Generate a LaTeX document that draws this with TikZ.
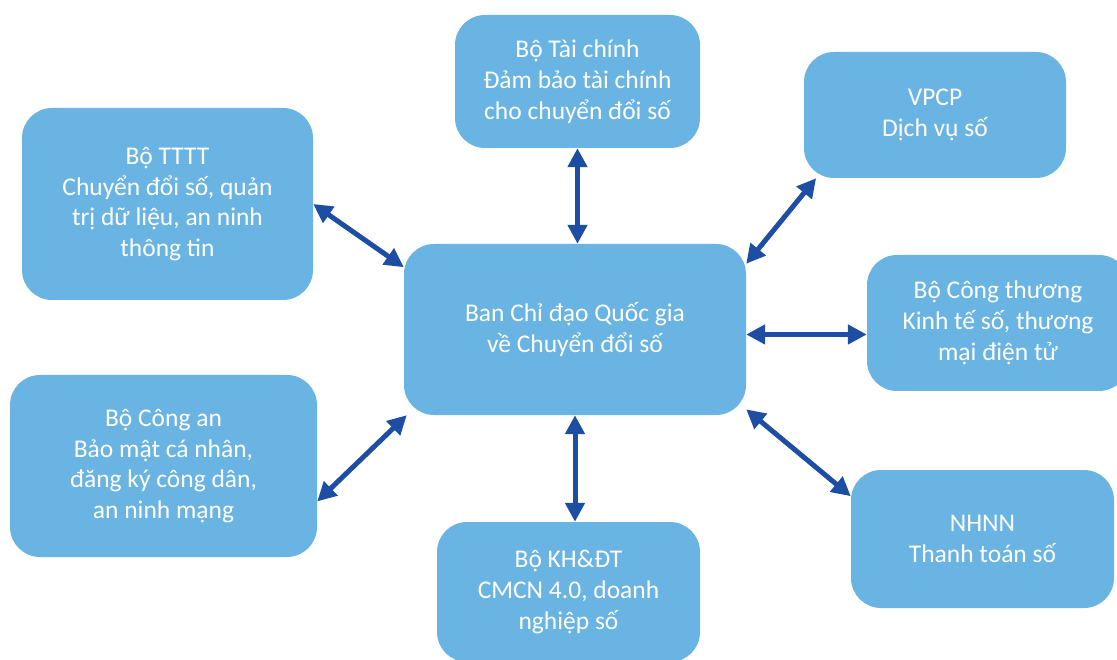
\documentclass[tikz,border=0pt]{standalone}
\usepackage{fontspec}
\setmainfont{Carlito}
\usetikzlibrary{arrows.meta}
\definecolor{boxblue}{RGB}{105,180,226}
\definecolor{arrowblue}{RGB}{29,78,163}
\tikzset{
	unit/.style={rounded corners=30pt, fill=boxblue, text=white, align=center, inner sep=0pt,
		font=\fontsize{25.5}{30.8}\selectfont},
	link/.style={{Triangle[length=19pt,width=19pt]}-{Triangle[length=19pt,width=19pt]}, line width=5pt, draw=arrowblue}
}
\begin{document}
\begin{tikzpicture}[x=1pt,y=-1pt]
			\useasboundingbox (0,0) rectangle (1117,660);
			\node[unit, minimum width=342pt, minimum height=171pt] (bcd) at (575,329.5) {Ban Chỉ đạo Quốc gia\\về Chuyển đổi số};
			\node[unit, minimum width=291pt, minimum height=192pt] (tttt) at (167.5,204) {Bộ TTTT\\Chuyển đổi số, quản\\trị dữ liệu, an ninh\\thông tin};
			\node[unit, minimum width=245pt, minimum height=133pt] (taichinh) at (577.5,81.5) {Bộ Tài chính\\Đảm bảo tài chính\\cho chuyển đổi số};
			\node[unit, minimum width=262pt, minimum height=126pt] (vpcp) at (935,115) {VPCP\\Dịch vụ số};
			\node[unit, minimum width=262pt, minimum height=136pt] (congthuong) at (998,323) {Bộ Công thương\\Kinh tế số, thương\\mại điện tử};
			\node[unit, minimum width=307pt, minimum height=182pt] (congan) at (163.5,466) {Bộ Công an\\Bảo mật cá nhân,\\đăng ký công dân,\\an ninh mạng};
			\node[unit, minimum width=263pt, minimum height=140pt] (khdt) at (568.5,592) {Bộ KH\&ĐT\\CMCN 4.0, doanh\\nghiệp số};
			\node[unit, minimum width=263pt, minimum height=138pt] (nhnn) at (982.5,539) {NHNN\\Thanh toán số};
			\draw[link] (tttt.east) -- (bcd.160);
			\draw[link] (taichinh.south) -- (taichinh.south |- bcd.north);
			\draw[link] (vpcp.208) -- (bcd.21.5);
			\draw[link] (congthuong.185.2) -- (congthuong.185.2 -| bcd.east);
			\draw[link] (congan.-13) -- (bcd.207.5);
			\draw[link] (bcd.south) -- (bcd.south |- khdt.north);
			\draw[link] (bcd.-25) -- (nhnn.162);
		\end{tikzpicture}
\end{document}
